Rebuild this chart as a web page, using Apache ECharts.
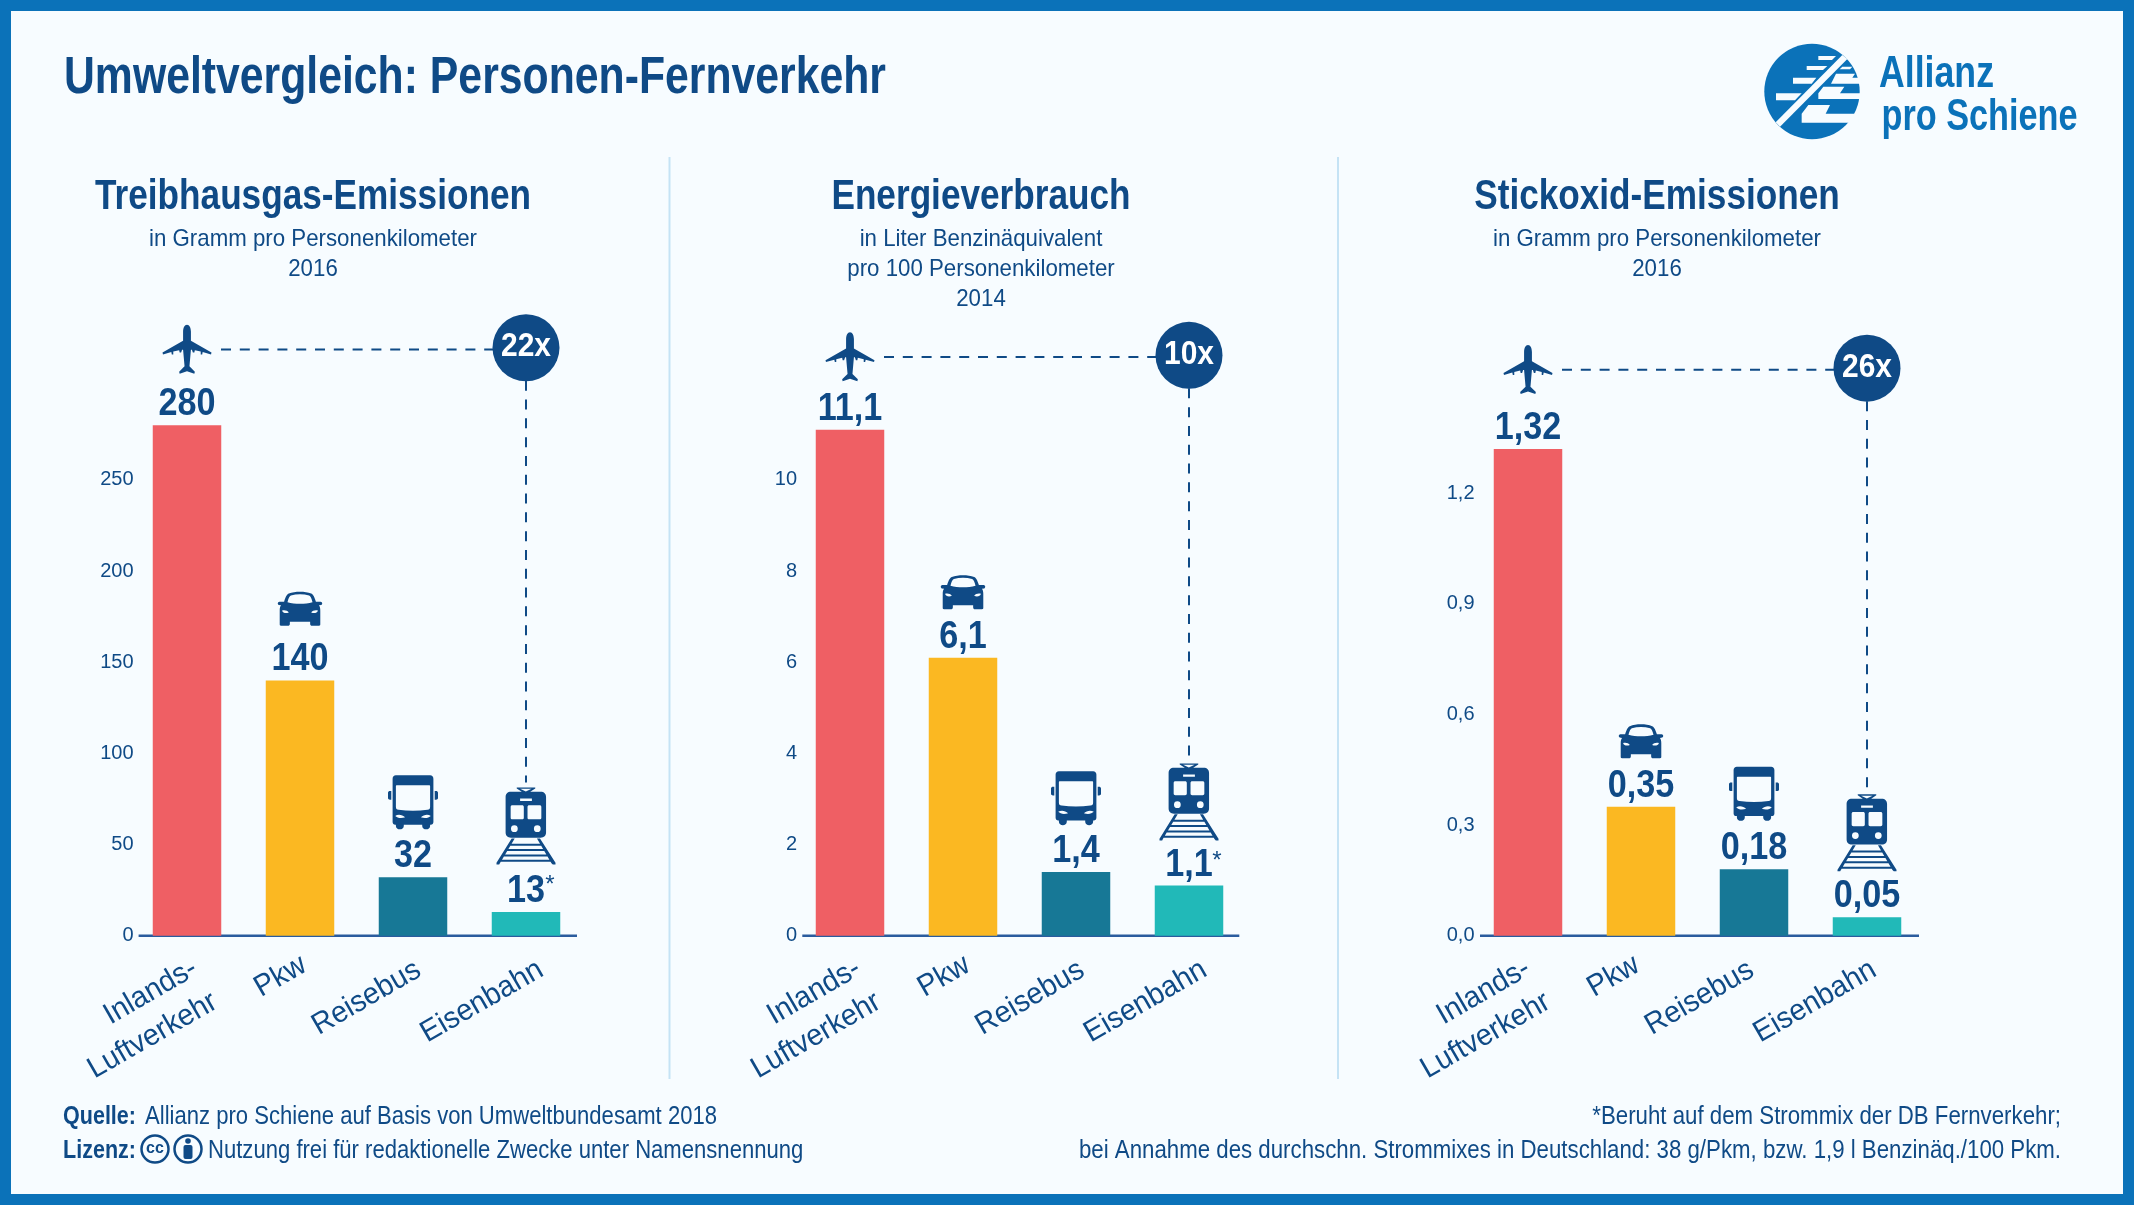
<!DOCTYPE html>
<html>
<head>
<meta charset="utf-8">
<title>Umweltvergleich: Personen-Fernverkehr</title>
<script src="https://cdn.jsdelivr.net/npm/echarts@6/dist/echarts.min.js"></script>
<style>
  html, body { margin: 0; padding: 0; background: #f7fcff; }
  #main { width: 2134px; height: 1205px; }
</style>
</head>
<body>
<div id="main"></div>
<script>
// values
const categories = ['Inlands-\nLuftverkehr', 'Pkw', 'Reisebus', 'Eisenbahn'];
const treibhausValues = [280, 140, 32, 13];
const energieValues = [11.1, 6.1, 1.4, 1.1];
const stickoxidValues = [1.32, 0.35, 0.18, 0.05];

const mainTitle = 'Umweltvergleich: Personen-Fernverkehr';
const panelTitles = ['Treibhausgas-Emissionen', 'Energieverbrauch', 'Stickoxid-Emissionen'];
const panelSubtitles = [
    ['in Gramm pro Personenkilometer', '2016'],
    ['in Liter Benzinäquivalent', 'pro 100 Personenkilometer', '2014'],
    ['in Gramm pro Personenkilometer', '2016']
];
const ratioLabels = ['22x', '10x', '26x'];

const NAVY = '#0f4a86';
const BLUE = '#0b72b9';
const BG = '#f7fcff';
const barColors = ['#ef5f64', '#fbb822', '#177896', '#21b9b8'];
const NARROW = '"Liberation Sans Narrow", "Liberation Sans", sans-serif';

// icon outlines, holes are wound the other way round
const PLANE = 'path://M50 0C55 0 58 6 58 14L58 33L100 57L99 61L82 56L81 61L78 61L78 55L66 52L65 57L62 57L60 51L58 51L55 85L66 96L65 100L50 95L35 100L34 96L45 85L42 51L40 51L38 57L35 57L34 52L22 55L22 61L19 61L18 56L1 61L0 57L42 33L42 14C42 6 45 0 50 0Z';
const CAR = 'path://M32 6C50 -1 80 -1 98 6C103 8 107 14 112 30L126 30C132 31 132 38 128 40L121 41C124 45 125 50 125 56L125 98C125 101 122 102 119 102L101 102C97 102 95 100 95 96L95 90L35 90L35 96C35 100 33 102 29 102L11 102C8 102 5 101 5 98L5 56C5 50 6 45 9 41L2 40C-2 38 -2 31 4 30L18 30C23 14 27 8 32 6Z'
    + 'M28 32C50 38 80 38 102 32C99 20 96 14 92 12C75 7 55 7 38 12C34 14 31 20 28 32Z'
    + 'M12 56C14 64 24 66 32 62C28 56 20 54 12 56Z'
    + 'M118 56C110 54 102 56 98 62C106 66 116 64 118 56Z';
const BUS = 'path://M24 0L128 0C134 0 138 4 138 10L138 140C138 145 135 148 130 148L128 148L128 152C128 159 122 162 116 162C110 162 104 159 104 152L104 148L48 148L48 152C48 159 42 162 36 162C30 162 24 159 24 152L24 148L22 148C17 148 14 145 14 140L14 10C14 4 18 0 24 0Z'
    + 'M24 32L24 94C24 100 26 103 32 103C60 107 92 107 120 103C126 103 128 100 128 94L128 32C128 31 127 30 126 30L26 30C25 30 24 31 24 32Z'
    + 'M22 122C28 128 40 130 52 126C44 118 30 116 22 122Z'
    + 'M130 122C122 116 108 118 100 126C112 130 124 128 130 122Z'
    + 'M0 52C0 49 3 47 6 47L10 47L10 73L6 73C3 73 0 71 0 68Z'
    + 'M142 47L146 47C149 47 152 49 152 52L152 68C152 71 149 73 146 73L142 73Z';
const TRAIN = 'path://M60 0L115 0L115 3L100 13L75 13L60 3Z'
    + 'M70 4L87 12L104 4Z'
    + 'M43 13L131 13C141 13 147 19 147 29L147 134C147 144 141 150 131 150L43 150C33 150 27 144 27 134L27 29C27 19 33 13 43 13Z'
    + 'M42 58L42 90C42 93 44 95 47 95L76 95C79 95 81 93 81 90L81 58C81 55 79 53 76 53L47 53C44 53 42 55 42 58Z'
    + 'M92 58L92 90C92 93 94 95 97 95L128 95C131 95 133 93 133 90L133 58C133 55 131 53 128 53L97 53C94 53 92 55 92 58Z'
    + 'M70 33L70 40L105 40L105 33Z'
    + 'M43 123A10 10 0 0 0 63 123A10 10 0 0 0 43 123Z'
    + 'M111 123A10 10 0 0 0 131 123A10 10 0 0 0 111 123Z'
    + 'M45 152L54 152L10 226L8 230L0 230L0 225Z'
    + 'M120 152L129 152L175 225L175 230L167 230L163 226Z'
    + 'M40 168L135 168L135 174L40 174Z'
    + 'M30 184L145 184L145 190L30 190Z'
    + 'M22 200L153 200L153 206L22 206Z'
    + 'M12 216L163 216L163 222L12 222Z';
const icons = [PLANE, CAR, BUS, TRAIN];
const iconSizes = [[49, 49], [44.5, 34], [50, 54], [59, 77]];

// layout of the three panels, lift = icon centre above the bar top
const panels = [
    { values: treibhausValues, left: 130.5, height: 547, max: 300, interval: 50, digits: 0, tickPad: 8,
      lift: [76, 71.6, 75, 86], center: 313, axisFrom: 48.4, axisTo: 51, star: [24, 34], margin: -3, labelDx: 0 },
    { values: energieValues, left: 793.5, height: 547, max: 12, interval: 2, digits: 0, tickPad: 8,
      lift: [73, 65.4, 73.7, 83.6], center: 981, axisFrom: 47.7, axisTo: 50.3, star: [28, 31], margin: -3.5, labelDx: 0.5 },
    { values: stickoxidValues, left: 1471.5, height: 553, max: 1.5, interval: 0.3, digits: 1, tickPad: 0,
      lift: [79.5, 65.3, 75.6, 84.4], center: 1657, axisFrom: 48, axisTo: 52, star: null, margin: -3, labelDx: -8 }
];
const GRID_BOTTOM_Y = 935.7;
// end of each slanted label line relative to the bar centre on the base line
const labelEnds = [[[8, 30.6], [28, 64]], [[4, 27.3]], [[5.5, 32.3]], [[15, 32]]];
const LABEL_ANGLE = 30 * Math.PI / 180;

const deNum = v => String(v).replace('.', ',');

const chart = echarts.init(document.getElementById('main'), null, { width: 2134, height: 1205 });

chart.setOption({
    backgroundColor: BG,
    animation: false,
    grid: panels.map(p => ({
        left: p.left, width: 452, top: GRID_BOTTOM_Y - p.height, height: p.height
    })),
    xAxis: panels.map((p, i) => ({
        type: 'category',
        gridIndex: i,
        data: categories,
        axisLine: { show: false },
        axisTick: { show: false },
        axisLabel: { show: false }
    })),
    yAxis: panels.map((p, i) => ({
        type: 'value',
        gridIndex: i,
        min: 0,
        max: p.max,
        interval: p.interval,
        splitLine: { show: false },
        axisLine: { show: false },
        axisTick: { show: false },
        axisLabel: {
            showMaxLabel: false,
            margin: p.margin,
            padding: [0, 0, p.tickPad, 0],
            color: NAVY, fontFamily: NARROW, fontSize: 20,
            formatter: v => v.toFixed(p.digits).replace('.', ',')
        }
    })),
    series: panels.flatMap((p, i) => [
        {
            type: 'bar',
            xAxisIndex: i, yAxisIndex: i,
            barWidth: 68.5,
            silent: true,
            data: p.values.map((v, c) => ({ value: v, itemStyle: { color: barColors[c] } }))
        },
        {
            type: 'scatter',
            xAxisIndex: i, yAxisIndex: i,
            silent: true,
            clip: false,
            itemStyle: { color: NAVY, opacity: 1 },
            data: p.values.map((v, c) => ({
                value: [c, v],
                symbol: icons[c],
                symbolSize: iconSizes[c],
                symbolOffset: [0, -p.lift[c]]
            }))
        }
    ])
});

// scale helper so the wide font runs as narrow as the lettering in the picture
const measureCtx = document.createElement('canvas').getContext('2d');
function widthScale(sample, size, weight, target) {
    measureCtx.font = `${weight} ${size}px ${NARROW}`;
    return target / measureCtx.measureText(sample).width;
}
const sxMain = widthScale(mainTitle, 51, 'bold', 822);
const sxHead = widthScale(panelTitles[0], 43, 'bold', 436);
const sxSub = widthScale(panelSubtitles[0][0], 24, 'normal', 328);
const sxFoot = widthScale('Allianz pro Schiene auf Basis von Umweltbundesamt 2018', 25, 'normal', 572);
const sxFootLong = widthScale('bei Annahme des durchschn. Strommixes in Deutschland: 38 g/Pkm, bzw. 1,9 l Benzinäq./100 Pkm.', 25, 'normal', 982);
const sxFootBold = widthScale('Quelle:', 25, 'bold', 73);
const sxLogo = widthScale('pro Schiene', 44, 'bold', 196);
const sxAllianz = widthScale('Allianz', 44, 'bold', 115);
const sxValue = widthScale('280', 38, 'bold', 57);
const sxRatio = widthScale('22x', 34, 'bold', 50);
const sxCategory = widthScale('Eisenbahn', 30, 'normal', 136);

// baseline is the y of the letter feet
function label(text, x, baseline, size, weight, fill, align, sx) {
    return {
        type: 'text', x: x, y: baseline - size * 0.29, scaleX: sx, silent: true,
        style: { text: text, x: 0, y: 0, fill: fill, align: align, verticalAlign: 'middle',
                 font: `${weight} ${size}px ${NARROW}` }
    };
}
function dashed(x1, y1, x2, y2) {
    return { type: 'line', silent: true, shape: { x1, y1, x2, y2 },
             style: { stroke: NAVY, lineWidth: 2, lineDash: [10, 8.8] } };
}
function cutout(points) {
    // logo cut-outs, measured on a crop at 1755,35 with 3x zoom
    return { type: 'polygon', silent: true,
             shape: { points: points.map(q => [1755 + q[0] / 3, 35 + q[1] / 3]) },
             style: { fill: BG } };
}

const elements = [
    { type: 'rect', silent: true, shape: { x: 5.5, y: 5.5, width: 2123, height: 1194 },
      style: { fill: 'none', stroke: BLUE, lineWidth: 11 } },
    label(mainTitle, 64, 93.3, 51, 'bold', NAVY, 'left', sxMain),
    { type: 'line', silent: true, shape: { x1: 669.5, y1: 157, x2: 669.5, y2: 1079 }, style: { stroke: '#c5e3f5', lineWidth: 2 } },
    { type: 'line', silent: true, shape: { x1: 1338, y1: 157, x2: 1338, y2: 1079 }, style: { stroke: '#c5e3f5', lineWidth: 2 } },

    // logo
    { type: 'circle', silent: true, shape: { cx: 1812, cy: 91.5, r: 47.7 }, style: { fill: BLUE } },
    cutout([[62, 262], [262, 60], [277, 72], [75, 275]]),
    cutout([[190, 63], [243, 63], [231, 75], [190, 75]]),
    cutout([[155, 93], [217, 93], [204, 105], [155, 105]]),
    cutout([[114, 128], [184, 128], [170, 146], [114, 146]]),
    cutout([[63, 175], [140, 175], [120, 196], [63, 196]]),
    cutout([[262, 95], [292, 95], [285, 103], [254, 103]]),
    cutout([[243, 116], [300, 116], [292, 128], [320, 128], [320, 146], [228, 146]]),
    cutout([[205, 155], [268, 155], [255, 175], [320, 175], [320, 192], [190, 192], [190, 175]]),
    cutout([[160, 210], [225, 210], [212, 236], [310, 236], [310, 263], [140, 263], [140, 236]]),
    label('Allianz', 1879, 88, 44, 'bold', BLUE, 'left', sxAllianz),
    label('pro Schiene', 1881.5, 131, 44, 'bold', BLUE, 'left', sxLogo),

    // footer
    label('Quelle:', 63, 1124, 25, 'bold', NAVY, 'left', sxFootBold),
    label('Allianz pro Schiene auf Basis von Umweltbundesamt 2018', 145, 1124, 25, 'normal', NAVY, 'left', sxFoot),
    label('Lizenz:', 63, 1158, 25, 'bold', NAVY, 'left', sxFootBold),
    label('Nutzung frei für redaktionelle Zwecke unter Namensnennung', 208, 1158, 25, 'normal', NAVY, 'left', sxFoot),
    label('*Beruht auf dem Strommix der DB Fernverkehr;', 2061, 1124, 25, 'normal', NAVY, 'right', sxFootLong),
    label('bei Annahme des durchschn. Strommixes in Deutschland: 38 g/Pkm, bzw. 1,9 l Benzinäq./100 Pkm.', 2061, 1158, 25, 'normal', NAVY, 'right', sxFootLong),
    { type: 'circle', silent: true, shape: { cx: 155, cy: 1149, r: 13.5 }, style: { fill: 'none', stroke: NAVY, lineWidth: 2.5 } },
    { type: 'text', silent: true, x: 155, y: 1149, style: { text: 'cc', fill: NAVY, align: 'center', verticalAlign: 'middle', font: 'bold 16px "Liberation Sans"' } },
    { type: 'circle', silent: true, shape: { cx: 188, cy: 1149, r: 13.5 }, style: { fill: 'none', stroke: NAVY, lineWidth: 2.5 } },
    { type: 'circle', silent: true, shape: { cx: 188, cy: 1141, r: 2.8 }, style: { fill: NAVY } },
    { type: 'rect', silent: true, shape: { x: 183.5, y: 1145, width: 9, height: 14, r: 2 }, style: { fill: NAVY } }
];

panels.forEach((p, i) => {
    elements.push(label(panelTitles[i], p.center, 210, 43, 'bold', NAVY, 'center', sxHead));
    panelSubtitles[i].forEach((line, n) => {
        elements.push(label(line, p.center, 246.5 + n * 30, 24, 'normal', NAVY, 'center', sxSub));
    });

    const at = (c, v) => chart.convertToPixel({ gridIndex: i }, [c, v]);
    const first = at(0, 0);
    const last = at(3, 0);
    elements.push({ type: 'line', silent: true,
        shape: { x1: first[0] - p.axisFrom, y1: first[1], x2: last[0] + p.axisTo, y2: first[1] },
        style: { stroke: '#2b5c9e', lineWidth: 2.5 } });

    // slanted category labels, anchored on the category position
    categories.forEach((name, c) => {
        const base = at(c, 0);
        name.split('\n').forEach((line, n) => {
            const end = labelEnds[c][n];
            elements.push({
                type: 'text', silent: true,
                x: base[0] + end[0] + p.labelDx, y: base[1] + end[1],
                rotation: LABEL_ANGLE, scaleX: sxCategory,
                style: { text: line, x: 0, y: 0, fill: NAVY, align: 'right', verticalAlign: 'middle',
                         font: `normal 30px ${NARROW}` }
            });
        });
    });

    // value above every bar, placed from the axis scale
    p.values.forEach((v, c) => {
        const top = at(c, v);
        elements.push(label(deNum(v), top[0], top[1] - 9.5, 38, 'bold', NAVY, 'center', sxValue));
    });

    const planeY = at(0, p.values[0])[1] - p.lift[0];
    const trainTop = at(3, p.values[3])[1] - p.lift[3] - iconSizes[3][1] / 2;
    const circleY = planeY - 1.4;
    elements.push(dashed(first[0] + 34, planeY + 0.3, last[0] - 33, planeY + 0.3));
    elements.push(dashed(last[0], circleY + 33, last[0], trainTop - 5));
    elements.push({ type: 'circle', silent: true, shape: { cx: last[0], cy: circleY, r: 33.5 }, style: { fill: NAVY } });
    elements.push({ type: 'text', silent: true, x: last[0], y: circleY - 1, scaleX: sxRatio,
        style: { text: ratioLabels[i], x: 0, y: 0, fill: '#ffffff', align: 'center', verticalAlign: 'middle',
                 font: `bold 34px ${NARROW}` } });

    if (p.star) {
        elements.push({ type: 'text', silent: true,
            x: last[0] + p.star[0], y: at(3, p.values[3])[1] - p.star[1] + 7,
            style: { text: '*', fill: NAVY, align: 'center', verticalAlign: 'middle', font: `normal 24px ${NARROW}` } });
    }
});

chart.setOption({ graphic: { elements: elements } });
</script>
</body>
</html>
